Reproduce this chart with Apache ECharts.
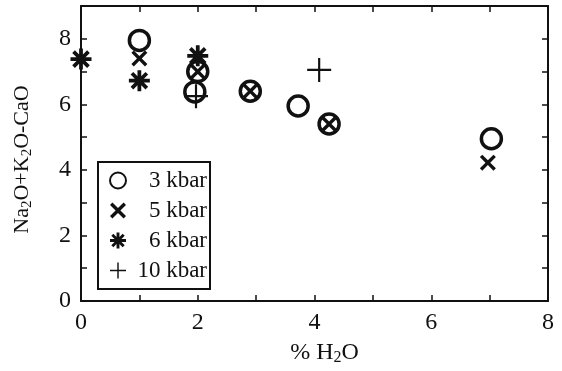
<!DOCTYPE html>
<html>
<head>
<meta charset="UTF-8">
<script src="https://cdn.jsdelivr.net/npm/echarts@6/dist/echarts.min.js"></script>
<style>
  body { margin: 0; background: #fff; }
  #chart { width: 562px; height: 371px; }
</style>
</head>
<body>
<div id="chart"></div>
<script>
// data: [% H2O, Na2O+K2O-CaO]
const kbar3 = [[1, 7.95], [1.95, 6.38], [2, 7.0], [2.9, 6.4], [3.72, 5.95], [4.25, 5.4], [7.03, 4.95]];
const kbar5 = [[1, 7.4], [2, 7.0], [2.9, 6.4], [4.25, 5.4], [6.97, 4.22]];
const kbar6 = [[0, 7.38], [1, 6.72], [2, 7.48]];
const kbar10 = [[1.97, 6.25], [4.08, 7.05]];
const seriesNames = ['3 kbar', '5 kbar', '6 kbar', '10 kbar'];

const ink = '#111';
const serif = '"Liberation Serif", "DejaVu Serif", serif';

// symbols (100x100 boxes)
const cross = 'path://M0,15L15,0L50,35L85,0L100,15L65,50L100,85L85,100L50,65L15,100L0,85L35,50Z';
const plusThin = 'path://M45.5,0H54.5V45.5H100V54.5H54.5V100H45.5V54.5H0V45.5H45.5Z';
const asterisk = 'path://M41,0H59V41H100V59H59V100H41V59H0V41H41Z' +
  'M20.9,8.2L91.8,79.1L79.1,91.8L8.2,20.9Z' +
  'M91.8,20.9L20.9,91.8L8.2,79.1L79.1,8.2Z';

const chart = echarts.init(document.getElementById('chart'));

const baseAxis = {
  min: 0,
  interval: 1,
  axisLine: { show: true, onZero: false, lineStyle: { color: ink, width: 2 } },
  axisTick: { show: true, inside: true, length: 6, lineStyle: { color: ink, width: 1.5 } },
  splitLine: { show: false }
};

const xNameRich = {
  t: { fontFamily: serif, fontSize: 24, color: ink },
  s: { fontFamily: serif, fontSize: 16, color: ink, padding: [11, 0, 0, 0] }
};
const yNameRich = {
  t: { fontFamily: serif, fontSize: 22, color: ink },
  s: { fontFamily: serif, fontSize: 15, color: ink, padding: [10, 0, 0, 0] }
};

chart.setOption({
  animation: false,
  backgroundColor: '#fff',
  grid: { left: 81, right: 14, top: 6, bottom: 68 },
  xAxis: [
    Object.assign({}, baseAxis, {
      type: 'value', max: 8, position: 'bottom',
      name: '{t|% H}{s|2}{t|O}',
      nameLocation: 'middle', nameGap: 38,
      nameTextStyle: { padding: [0, 0, 0, 20], rich: xNameRich },
      axisLabel: {
        margin: 10, color: ink, fontFamily: serif, fontSize: 24,
        formatter: v => (v % 2 === 0 ? String(v) : '')
      }
    }),
    Object.assign({}, baseAxis, {
      type: 'value', max: 8, position: 'top',
      axisLabel: { show: false }
    })
  ],
  yAxis: [
    Object.assign({}, baseAxis, {
      type: 'value', max: 9, position: 'left',
      name: '{t|Na}{s|2}{t|O+K}{s|2}{t|O-CaO}',
      nameLocation: 'middle', nameGap: 46, nameRotate: 90,
      nameTextStyle: { padding: [0, 12, 0, 0], rich: yNameRich },
      axisLabel: {
        margin: 10, color: ink, fontFamily: serif, fontSize: 24,
        formatter: v => (v % 2 === 0 ? String(v) : '')
      }
    }),
    Object.assign({}, baseAxis, {
      type: 'value', max: 9, position: 'right',
      axisLabel: { show: false }
    })
  ],
  legend: {
    orient: 'vertical',
    left: 98, top: 162,
    padding: [7, 3, 7, 11],
    itemGap: 7,
    itemWidth: 16, itemHeight: 16,
    borderColor: ink, borderWidth: 2,
    backgroundColor: '#fff',
    data: seriesNames,
    formatter: name => '{r|' + name + '}',
    textStyle: {
      color: ink,
      rich: { r: { width: 76, align: 'right', fontFamily: serif, fontSize: 23, color: ink } }
    }
  },
  series: [
    {
      name: seriesNames[0], type: 'scatter', data: kbar3,
      symbol: 'circle', symbolSize: 20, z: 2,
      itemStyle: { color: 'rgba(0,0,0,0)', borderColor: ink, borderWidth: 3.5, opacity: 1 }
    },
    {
      name: seriesNames[1], type: 'scatter', data: kbar5,
      symbol: cross, symbolSize: 16, z: 3,
      itemStyle: { color: ink, opacity: 1 }
    },
    {
      name: seriesNames[2], type: 'scatter', data: kbar6,
      symbol: asterisk, symbolSize: 21, z: 3,
      itemStyle: { color: ink, opacity: 1 }
    },
    {
      name: seriesNames[3], type: 'scatter', data: kbar10,
      symbol: plusThin, symbolSize: 24, z: 3,
      itemStyle: { color: ink, opacity: 1 }
    }
  ]
});
</script>
</body>
</html>
